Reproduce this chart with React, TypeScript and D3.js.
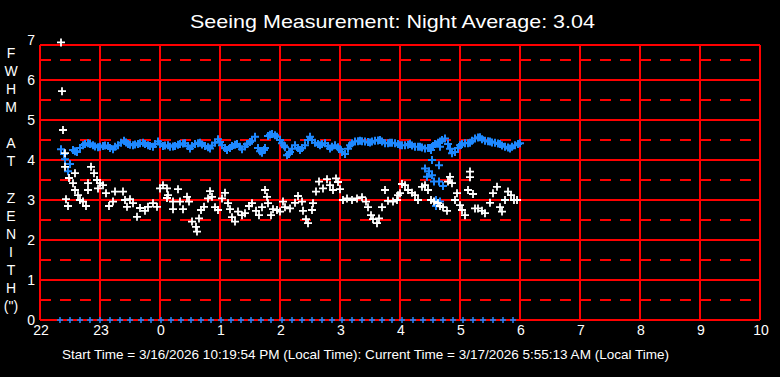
import React, { useEffect } from "react";
import * as d3 from "d3";

// time in minutes after 22:00, value = FWHM (arcsec)
const whiteSeries: [number, number][] = [
  [21, 6.94], [22, 5.72], [23, 4.75], [25, 4.17], [25, 3.83], [26, 3.02], [28, 2.85], [29, 3.55],
  [33, 3.42], [35, 3.67], [35, 3.25], [38, 3.12], [40, 3.0], [43, 2.96], [46, 2.85], [48, 3.25],
  [48, 3.42], [51, 3.83], [54, 3.67], [57, 3.5], [58, 3.29], [60, 3.42], [63, 3.37], [66, 3.17],
  [69, 2.85], [73, 2.96], [75, 3.21], [83, 3.21], [85, 3.0], [87, 2.83], [90, 3.02], [93, 2.92],
  [97, 2.58], [100, 2.8], [105, 2.73], [108, 2.83], [113, 2.92], [117, 2.83], [120, 3.29], [123, 3.37],
  [127, 3.05], [127, 3.29], [128, 3.12], [133, 2.96], [133, 2.77], [138, 3.27], [140, 2.96], [143, 2.77],
  [147, 3.08], [149, 2.96], [152, 2.46], [156, 2.33], [157, 2.21], [159, 2.54], [161, 2.75], [164, 2.83],
  [168, 3.04], [170, 3.22], [172, 3.08], [175, 2.82], [178, 2.75], [182, 3.04], [185, 3.18], [188, 2.92],
  [190, 2.77], [192, 2.57], [195, 2.46], [198, 2.71], [202, 2.62], [205, 2.67], [209, 2.85], [212, 2.92],
  [216, 2.73], [219, 2.62], [222, 2.82], [225, 3.25], [227, 3.08], [228, 2.92], [231, 2.62], [233, 2.77],
  [237, 2.75], [240, 2.71], [243, 2.96], [245, 2.82], [250, 2.79], [255, 2.93], [258, 3.1], [262, 2.96],
  [263, 2.73], [266, 2.52], [268, 2.42], [272, 2.75], [273, 2.92], [276, 3.21], [279, 3.46], [283, 3.29],
  [287, 3.52], [290, 3.37], [293, 3.25], [296, 3.54], [298, 3.45], [300, 3.27], [303, 3.0], [307, 3.04],
  [312, 3.0], [317, 3.04], [322, 3.07], [326, 2.96], [328, 2.82], [331, 2.62], [333, 2.52], [337, 2.42],
  [339, 2.54], [342, 2.82], [345, 3.25], [348, 2.98], [353, 2.96], [357, 3.0], [358, 3.12], [360, 3.17],
  [362, 3.4], [365, 3.37], [368, 3.25], [372, 3.18], [375, 3.12], [378, 3.0], [382, 3.33], [385, 3.37],
  [388, 3.25], [391, 3.0], [394, 2.96], [398, 2.92], [400, 2.85], [403, 2.82], [407, 2.73], [408, 3.46],
  [410, 3.58], [412, 3.42], [415, 3.0], [417, 3.17], [420, 2.87], [422, 2.75], [425, 2.62], [428, 3.25],
  [430, 3.71], [430, 3.57], [433, 3.15], [435, 2.79], [438, 2.79], [442, 2.73], [445, 2.67], [450, 2.93],
  [453, 3.17], [457, 3.33], [460, 2.82], [462, 2.71], [465, 3.0], [468, 3.21], [471, 3.12], [474, 3.0],
  [477, 3.0],
];

const blueSeries: [number, number][] = [
  [21, 4.27], [24, 4.15], [25, 4.02], [28, 3.72], [30, 3.9], [33, 4.25], [37, 4.2], [43, 4.37],
  [48, 4.42], [53, 4.37], [58, 4.32], [63, 4.35], [68, 4.35], [73, 4.27], [78, 4.37], [84, 4.48],
  [88, 4.4], [93, 4.37], [98, 4.4], [103, 4.43], [108, 4.37], [113, 4.33], [118, 4.46], [123, 4.35],
  [128, 4.37], [130, 4.33], [135, 4.35], [140, 4.4], [145, 4.42], [150, 4.29], [155, 4.4], [160, 4.43],
  [165, 4.35], [170, 4.29], [175, 4.43], [178, 4.52], [182, 4.37], [187, 4.25], [192, 4.35], [197, 4.4],
  [202, 4.27], [207, 4.4], [212, 4.48], [215, 4.58], [218, 4.3], [222, 4.18], [225, 4.3], [228, 4.6],
  [232, 4.65], [237, 4.58], [240, 4.5], [242, 4.42], [245, 4.32], [247, 4.12], [250, 4.2], [255, 4.37],
  [260, 4.25], [265, 4.37], [270, 4.58], [275, 4.43], [280, 4.37], [285, 4.42], [290, 4.29], [295, 4.37],
  [300, 4.27], [305, 4.15], [310, 4.37], [315, 4.46], [320, 4.48], [325, 4.46], [330, 4.44], [335, 4.48],
  [340, 4.5], [345, 4.42], [350, 4.43], [355, 4.42], [360, 4.37], [365, 4.37], [370, 4.4], [375, 4.33],
  [380, 4.33], [385, 4.29], [390, 4.3], [395, 4.4], [400, 4.46], [405, 4.54], [408, 4.4], [412, 4.17],
  [415, 4.2], [420, 4.37], [425, 4.42], [430, 4.43], [435, 4.54], [440, 4.57], [445, 4.48], [450, 4.46],
  [455, 4.43], [460, 4.4], [465, 4.33], [470, 4.29], [475, 4.37], [480, 4.42],
  [35, 4.22], [40, 4.3], [45, 4.4], [50, 4.4], [55, 4.34], [60, 4.33], [65, 4.36], [70, 4.3],
  [75, 4.33], [81, 4.43], [86, 4.44], [90, 4.38], [95, 4.39], [100, 4.42], [105, 4.4], [110, 4.35],
  [115, 4.4], [120, 4.4], [125, 4.36], [133, 4.34], [138, 4.38], [143, 4.41], [148, 4.35], [152, 4.35],
  [158, 4.42], [162, 4.39], [168, 4.32], [172, 4.36], [180, 4.45], [185, 4.3], [190, 4.3], [195, 4.38],
  [200, 4.33], [205, 4.34], [210, 4.45], [220, 4.22], [224, 4.25], [230, 4.63], [235, 4.62], [244, 4.36],
  [249, 4.15], [252, 4.28], [258, 4.3], [262, 4.3], [268, 4.5], [272, 4.5], [278, 4.4], [282, 4.4],
  [288, 4.35], [292, 4.33], [298, 4.32], [302, 4.2], [308, 4.28], [312, 4.42], [318, 4.47], [322, 4.47],
  [328, 4.45], [332, 4.46], [338, 4.49], [342, 4.46], [348, 4.42], [352, 4.43], [358, 4.4], [362, 4.37],
  [368, 4.38], [372, 4.36], [378, 4.33], [382, 4.31], [388, 4.3], [393, 4.35], [398, 4.43], [402, 4.5],
  [410, 4.28], [418, 4.3], [422, 4.4], [428, 4.42], [432, 4.48], [438, 4.56], [442, 4.52], [448, 4.47],
  [452, 4.44], [458, 4.41], [462, 4.36], [468, 4.31], [472, 4.33], [478, 4.4],
  [392, 4.0], [399, 3.87], [385, 3.79], [389, 3.72], [392, 3.62], [387, 3.58], [394, 3.46], [399, 3.46],
  [403, 3.35], [396, 3.0], [400, 2.96], [396, 2.85], [391, 4.25], [400, 4.33],
];

// blue markers along the zero line (minutes after 22:00)
const zeroMarks: number[] = [
  20, 30, 40, 50, 60, 70, 80, 90, 101, 111, 121, 131, 141, 151, 161, 171, 181, 191, 201, 211, 221, 231,
  242, 252, 262, 272, 282, 292, 302, 312, 322, 332, 342, 352, 362, 373, 383, 393, 403, 413, 423, 433,
  443, 453, 463, 473,
];

const xTickHours: number[] = [22, 23, 24, 25, 26, 27, 28, 29, 30, 31, 32, 33, 34];
const yTicks: number[] = [0, 1, 2, 3, 4, 5, 6, 7];
const yDashed: number[] = [0.5, 1.5, 2.5, 3.5, 4.5, 5.5, 6.5];
const yLabelChars: string[] = ["F", "W", "H", "M", "", "A", "T", "", "Z", "E", "N", "I", "T", "H", "(\")"];

const titleText = "Seeing Measurement: Night Average: 3.04";
const footerText =
  "Start Time = 3/16/2026 10:19:54 PM (Local Time): Current Time = 3/17/2026 5:55:13 AM (Local Time)";

const W = 780;
const H = 377;
const left = 40;
const right = 760;
const bottom = 320;
const frameTop = 45;

const RED = "#ff0000";
const BLUE = "#1e88ff";
const FONT = "'Liberation Sans', Arial, sans-serif";

export default function App() {
  useEffect(() => {
    document.body.style.margin = "0";
    document.body.style.background = "#000";
  }, []);

  const x = d3.scaleLinear().domain([22, 34]).range([left, right]);
  const y = d3.scaleLinear().domain([0, 7]).range([bottom, 40]);
  const xm = (m: number) => x(22 + m / 60);

  const cross = (cx: number, cy: number, r: number) => `M${cx - r},${cy}H${cx + r}M${cx},${cy - r}V${cy + r}`;

  return (
    <svg width={W} height={H} style={{ display: "block", position: "absolute", left: 0, top: 0 }}>
      <rect x={0} y={0} width={W} height={H} fill="#000" />
      {yDashed.map((v) => (
        <line key={"d" + v} x1={left} x2={right} y1={y(v)} y2={y(v)} stroke={RED} strokeWidth={2} strokeDasharray="11,9" />
      ))}
      {yTicks.filter((v) => v < 7).map((v) => (
        <line key={"h" + v} x1={left} x2={right} y1={y(v)} y2={y(v)} stroke={RED} strokeWidth={2} />
      ))}
      <line x1={left} x2={right} y1={frameTop} y2={frameTop} stroke={RED} strokeWidth={2} />
      {xTickHours.map((h) => (
        <line key={"v" + h} x1={x(h)} x2={x(h)} y1={frameTop} y2={bottom} stroke={RED} strokeWidth={2} />
      ))}
      {yTicks.map((v) => (
        <text key={"yl" + v} x={35} y={y(v)} dy="0.36em" textAnchor="end" fill="#fff" fontFamily={FONT} fontSize={14}>
          {v}
        </text>
      ))}
      {xTickHours.map((h) => (
        <text key={"xl" + h} x={x(h) + 1} y={335} textAnchor="middle" fill="#fff" fontFamily={FONT} fontSize={14}>
          {h % 24}
        </text>
      ))}
      {yLabelChars.map((c, i) => (
        <text key={"c" + i} x={11} y={53 + i * 18.07} dy="0.36em" textAnchor="middle" fill="#fff" fontFamily={FONT} fontSize={14}>
          {c}
        </text>
      ))}
      <text x={190} y={28} textLength={405} lengthAdjust="spacingAndGlyphs" fill="#fff" fontFamily={FONT} fontSize={19}>
        {titleText}
      </text>
      <text x={62} y={359} textLength={607} lengthAdjust="spacingAndGlyphs" fill="#fff" fontFamily={FONT} fontSize={13}>
        {footerText}
      </text>
      <path d={zeroMarks.map((m) => cross(xm(m), y(0), 3)).join("")} stroke={BLUE} strokeWidth={1.5} fill="none" />
      <path d={blueSeries.map(([m, v]) => cross(xm(m), y(v), 4)).join("")} stroke={BLUE} strokeWidth={2} fill="none" />
      <path d={whiteSeries.map(([m, v]) => cross(xm(m), y(v), 4)).join("")} stroke="#fff" strokeWidth={1.8} fill="none" />
    </svg>
  );
}
